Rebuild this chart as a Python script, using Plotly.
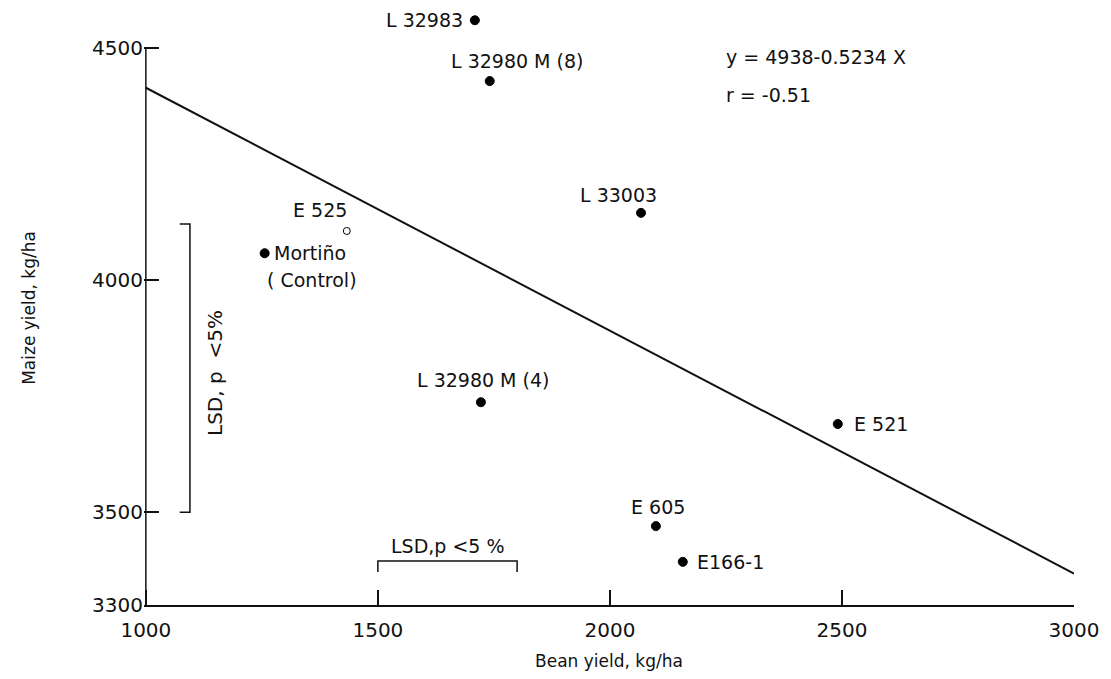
import plotly.graph_objects as go

# ---------------- data ----------------
names = ["L 32983", "L 32980 M (8)", "E 525", "Mortiño", "L 33003",
         "L 32980 M (4)", "E 521", "E 605", "E166-1"]
bean_yield = [1709, 1741, 1433, 1256, 2067, 1722, 2491, 2099, 2157]
maize_yield = [4560, 4429, 4106, 4058, 4145, 3737, 3690, 3470, 3393]
open_marker = [False, False, True, False, False, False, False, False, False]

intercept = 4938
slope = -0.5234
r_value = -0.51
line_x = [1000, 3000]

x_ticks = [1000, 1500, 2000, 2500, 3000]
y_ticks = [3300, 3500, 4000, 4500]
y_axis_span = [3300, 4500]

# LSD brackets (data units)
lsd_maize = [3500, 4121]   # vertical bracket extent (maize yield)
lsd_bean = [1500, 1800]    # horizontal bracket extent (bean yield)

# label placement (pixel offsets relative to point) -- styling only
label_style = {
    "L 32983":       dict(xshift=-10, yshift=0, xanchor="right"),
    "L 32980 M (8)": dict(xshift=27, yshift=20, xanchor="center"),
    "E 525":         dict(xshift=-27, yshift=21, xanchor="center"),
    "Mortiño":       dict(xshift=7, yshift=0, xanchor="left"),
    "L 33003":       dict(xshift=-23, yshift=18, xanchor="center"),
    "L 32980 M (4)": dict(xshift=2, yshift=22, xanchor="center"),
    "E 521":         dict(xshift=14, yshift=0, xanchor="left"),
    "E 605":         dict(xshift=2, yshift=19, xanchor="center"),
    "E166-1":        dict(xshift=12, yshift=0, xanchor="left"),
}

FONT = "DejaVu Sans"
INK = "#111111"
LBL = 19

fig = go.Figure()

# y axis line only over the labelled span
fig.add_trace(go.Scatter(
    x=[x_ticks[0], x_ticks[0]], y=y_axis_span, mode="lines",
    line=dict(color=INK, width=1.5), hoverinfo="skip", showlegend=False))

# regression line
fig.add_trace(go.Scatter(
    x=line_x, y=[intercept + slope * v for v in line_x],
    mode="lines", line=dict(color=INK, width=2), hoverinfo="skip",
    showlegend=False, cliponaxis=False))

# points
fig.add_trace(go.Scatter(
    x=bean_yield, y=maize_yield, mode="markers",
    marker=dict(
        size=[7 if o else 9 for o in open_marker],
        color=["white" if o else "black" for o in open_marker],
        opacity=1,
        line=dict(color="black", width=1),
        symbol="circle"),
    showlegend=False, cliponaxis=False))

# vertical LSD bracket
vx, tickx = 1095, 1073
fig.add_trace(go.Scatter(
    x=[tickx, vx, vx, tickx], y=[lsd_maize[1], lsd_maize[1], lsd_maize[0], lsd_maize[0]],
    mode="lines", line=dict(color=INK, width=1.5), showlegend=False, hoverinfo="skip"))
# horizontal LSD bracket
hy, ticky = 3395, 3371
fig.add_trace(go.Scatter(
    x=[lsd_bean[0], lsd_bean[0], lsd_bean[1], lsd_bean[1]], y=[ticky, hy, hy, ticky],
    mode="lines", line=dict(color=INK, width=1.5), showlegend=False, hoverinfo="skip"))

anns = []
for n, xv, yv in zip(names, bean_yield, maize_yield):
    st = label_style[n]
    anns.append(dict(x=xv, y=yv, text=n, showarrow=False, xanchor=st["xanchor"],
                     yanchor="middle", xshift=st["xshift"], yshift=st["yshift"],
                     font=dict(family=FONT, size=LBL, color=INK)))
# "(Control)" under Mortiño
anns.append(dict(x=bean_yield[3], y=maize_yield[3], text="( Control)", showarrow=False,
                 xanchor="left", yanchor="middle", xshift=0, yshift=-27,
                 font=dict(family=FONT, size=LBL, color=INK)))
# equation
anns.append(dict(x=2245, y=4480, text=f"y = {intercept}-{abs(slope)} X", showarrow=False,
                 xanchor="left", yanchor="middle",
                 font=dict(family=FONT, size=LBL, color=INK)))
anns.append(dict(x=2245, y=4400, text=f"r = -{abs(r_value)}", showarrow=False,
                 xanchor="left", yanchor="middle",
                 font=dict(family=FONT, size=LBL, color=INK)))
# LSD labels
anns.append(dict(x=1149, y=3800, text="LSD, p  <5%", textangle=-90, showarrow=False,
                 xanchor="center", yanchor="middle",
                 font=dict(family=FONT, size=LBL + 1, color=INK)))
anns.append(dict(x=1650, y=3428, text="LSD,p <5 %", showarrow=False,
                 xanchor="center", yanchor="middle",
                 font=dict(family=FONT, size=LBL, color=INK)))

fig.update_layout(
    width=1111, height=679,
    margin=dict(l=144, r=37, t=11, b=74),
    paper_bgcolor="white", plot_bgcolor="white",
    font=dict(family=FONT, color=INK),
    annotations=anns,
    xaxis=dict(range=[996, 3000], tickvals=x_ticks, ticks="inside", ticklen=15,
               tickwidth=1.5, tickcolor=INK, showline=True, linecolor=INK, linewidth=1.5,
               showgrid=False, zeroline=False, ticklabelstandoff=6,
               tickfont=dict(family=FONT, size=20, color=INK),
               title=dict(text="Bean yield, kg/ha", standoff=14,
                          font=dict(family=FONT, size=17, color=INK))),
    yaxis=dict(range=[3300, 4580], tickvals=y_ticks, ticks="inside", ticklen=15,
               tickwidth=1.5, tickcolor=INK, showline=False,
               showgrid=False, zeroline=False, tickfont=dict(family=FONT, size=20, color=INK),
               title=dict(text="Maize yield, kg/ha", standoff=52,
                          font=dict(family=FONT, size=17, color=INK))),
)

fig.write_html("out.html")
